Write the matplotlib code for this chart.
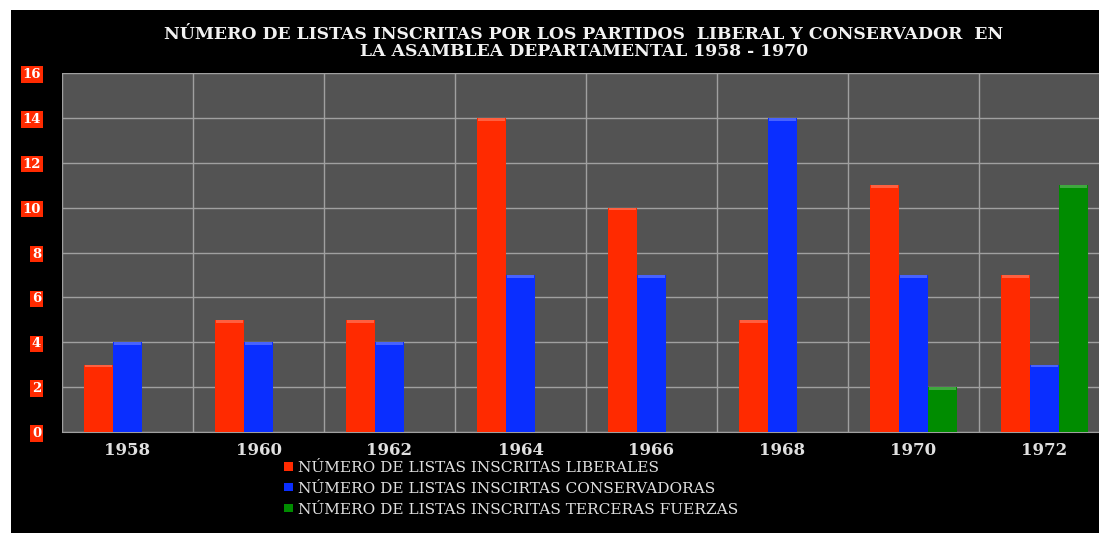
import numpy as np
import matplotlib.pyplot as plt

years = ['1958', '1960', '1962', '1964', '1966', '1968', '1970', '1972']
liberales = [3, 5, 5, 14, 10, 5, 11, 7]
conservadoras = [4, 4, 4, 7, 7, 14, 7, 3]
terceras = [0, 0, 0, 0, 0, 0, 2, 11]
series_names = ['NÚMERO DE LISTAS INSCRITAS LIBERALES',
                'NÚMERO DE LISTAS INSCIRTAS CONSERVADORAS',
                'NÚMERO DE LISTAS INSCRITAS TERCERAS FUERZAS']
y_ticks = [0, 2, 4, 6, 8, 10, 12, 14, 16]

colors = ['#ff2a00', '#0a2eff', '#008c00']
serif = ['DejaVu Serif']

fig = plt.figure(figsize=(10.99, 5.33), dpi=100, facecolor='white')
# black panel behind the whole chart
bg = fig.add_axes([11/1099, 0, 1, 1 - 10/533], zorder=-1)
bg.set_facecolor('black')
bg.set_xticks([])
bg.set_yticks([])
for s in bg.spines.values():
    s.set_visible(False)

ax = fig.add_axes([62/1099, 101/533, 1048/1099, 359/533], zorder=1)
ax.set_facecolor('#535353')

x = np.arange(len(years))
w = 0.222
for i, (vals, c, name) in enumerate(zip([liberales, conservadoras, terceras], colors, series_names)):
    vals = np.array(vals)
    xs = x + (i - 1) * w
    ax.bar(xs, vals, width=w, color=c, edgecolor='none', label=name, zorder=3)
    # small highlight at the top of each bar to mimic the cylinder caps
    mask = vals > 0
    ax.bar(xs[mask], 0.12, bottom=vals[mask] - 0.12, width=w * 0.9,
           color='white', alpha=0.25, edgecolor='none', zorder=4)

ax.set_xlim(-0.5, len(years) - 0.5)
ax.set_ylim(0, 16)
ax.set_yticks(y_ticks)
ax.set_xticks(x)
ax.set_xticklabels(years)
ax.set_xticks(np.arange(len(years) + 1) - 0.5, minor=True)
ax.grid(True, axis='y', which='major', color='#a0a0a0', linewidth=1, zorder=1)
ax.grid(True, axis='x', which='minor', color='#a0a0a0', linewidth=1, zorder=1)
ax.tick_params(axis='both', which='both', length=0)
ax.tick_params(axis='x', pad=7, labelsize=12, labelcolor='#e0e0e0')
ax.tick_params(axis='y', pad=15, labelsize=9.5, labelcolor='white')
for lab in ax.get_xticklabels():
    lab.set_family(serif)
    lab.set_fontweight('bold')
for lab in ax.get_yticklabels():
    lab.set_family(serif)
    lab.set_fontweight('bold')
    lab.set_bbox(dict(facecolor='#ff2a00', edgecolor='none', pad=1.2))
for s in ax.spines.values():
    s.set_visible(False)
ax.spines['bottom'].set_visible(True)
ax.spines['bottom'].set_color('#a0a0a0')

fig.text(584/1099, 1 - 43/533,
         'NÚMERO DE LISTAS INSCRITAS POR LOS PARTIDOS  LIBERAL Y CONSERVADOR  EN\nLA ASAMBLEA DEPARTAMENTAL 1958 - 1970',
         ha='center', va='center', color='#f2f2f2', fontsize=12.4, fontweight='bold',
         family=serif, linespacing=0.95)

leg = fig.legend(loc='upper left', bbox_to_anchor=(270/1099, 1 - 447/533),
                 frameon=False, handlelength=0.6, handleheight=0.45,
                 handletextpad=0.3, labelspacing=0.45, prop={'family': serif, 'size': 11.1})
for t in leg.get_texts():
    t.set_color('#e0e0e0')

fig.savefig('out.png', dpi=100, facecolor=fig.get_facecolor())
